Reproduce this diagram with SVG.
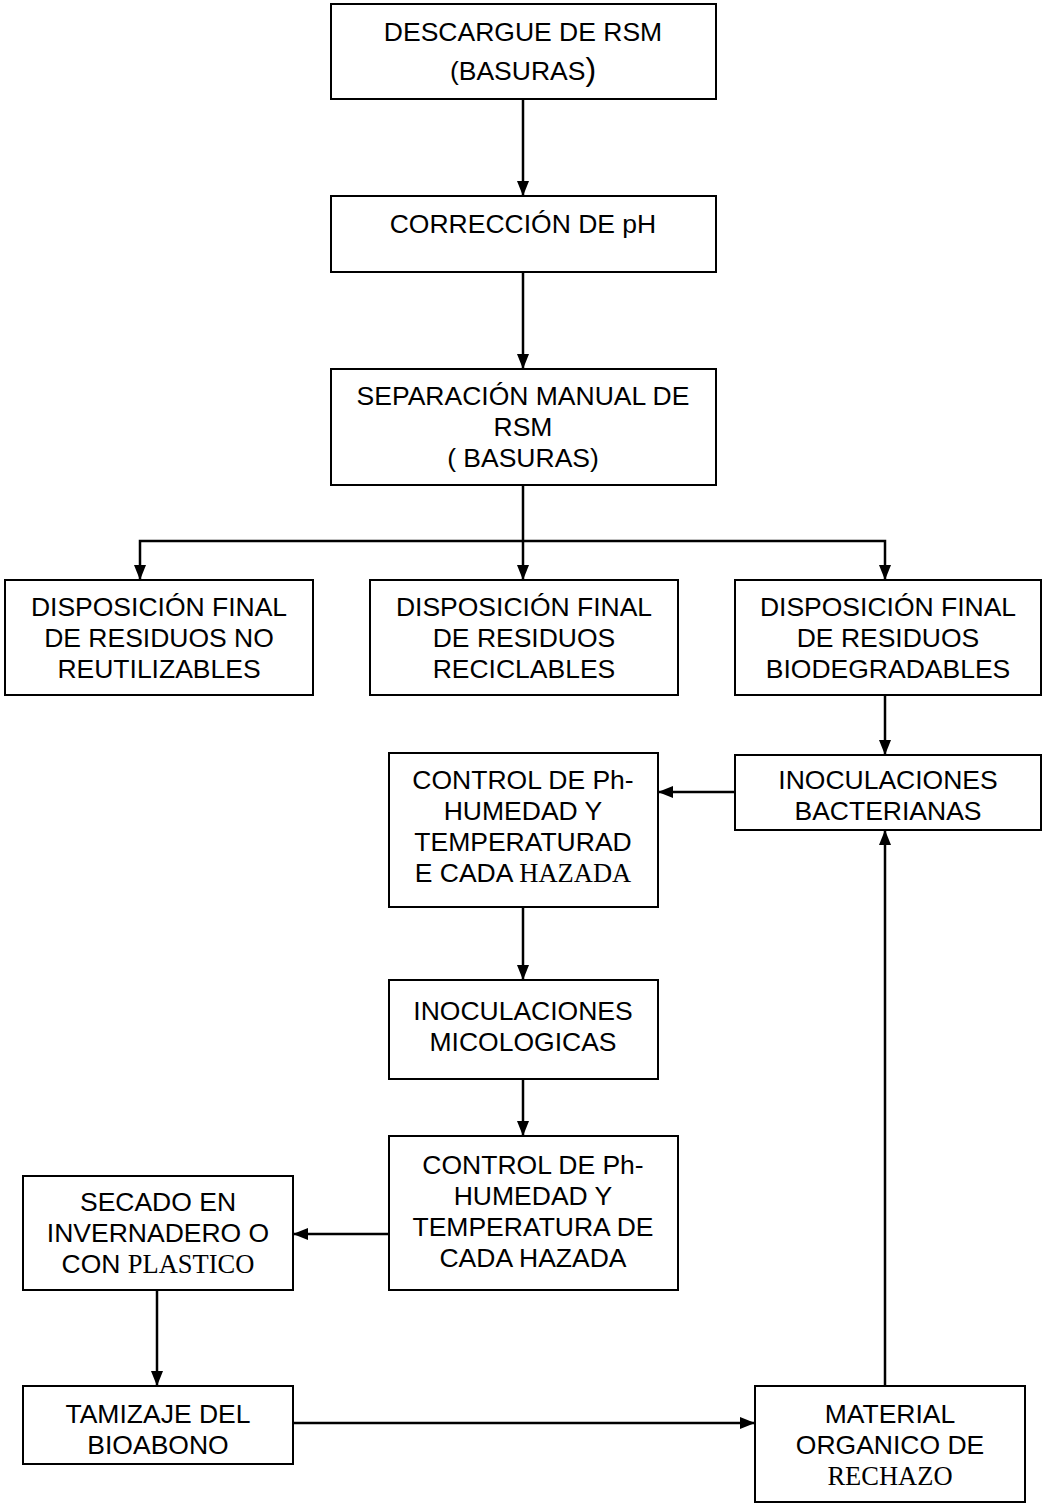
<svg xmlns="http://www.w3.org/2000/svg" width="1043" height="1504" viewBox="0 0 1043 1504">
<style>
.b{fill:#fff;stroke:#000;stroke-width:2}
.t{font-family:"Liberation Sans",Arial,sans-serif;font-size:26.5px;text-anchor:middle;fill:#000}
.s{font-family:"Liberation Serif","Times New Roman",serif}
.c{fill:none;stroke:#000;stroke-width:2.5}
</style>
<defs>
<marker id="a" markerWidth="15" markerHeight="12" refX="14" refY="6" orient="auto" markerUnits="userSpaceOnUse">
<path d="M0,0 L15,6 L0,12 Z" fill="#000"/>
</marker>
</defs>
<rect width="1043" height="1504" fill="#fff"/>
<g id="connectors">
<line class="c" x1="523" y1="99" x2="523" y2="195" marker-end="url(#a)"/>
<line class="c" x1="523" y1="272" x2="523" y2="368" marker-end="url(#a)"/>
<line class="c" x1="523" y1="485" x2="523" y2="579" marker-end="url(#a)"/>
<polyline class="c" points="523,541 885,541 885,579" marker-end="url(#a)"/>
<polyline class="c" points="523,541 140,541 140,579" marker-end="url(#a)"/>
<line class="c" x1="885" y1="695" x2="885" y2="754" marker-end="url(#a)"/>
<line class="c" x1="735" y1="792" x2="659" y2="792" marker-end="url(#a)"/>
<line class="c" x1="523" y1="907" x2="523" y2="979" marker-end="url(#a)"/>
<line class="c" x1="523" y1="1079" x2="523" y2="1135" marker-end="url(#a)"/>
<line class="c" x1="389" y1="1234" x2="294" y2="1234" marker-end="url(#a)"/>
<line class="c" x1="157" y1="1290" x2="157" y2="1385" marker-end="url(#a)"/>
<line class="c" x1="293" y1="1423" x2="754" y2="1423" marker-end="url(#a)"/>
<line class="c" x1="885" y1="1386" x2="885" y2="831" marker-end="url(#a)"/>
</g>
<g id="n1"><rect class="b" x="331" y="4" width="385" height="95"/>
<text class="t" x="523" y="41">DESCARGUE DE RSM</text>
<text class="t" x="523" y="80">(BASURAS<tspan font-size="32">)</tspan></text></g>
<g id="n2"><rect class="b" x="331" y="196" width="385" height="76"/>
<text class="t" x="523" y="233">CORRECCIÓN DE pH</text></g>
<g id="n3"><rect class="b" x="331" y="369" width="385" height="116"/>
<text class="t" x="523" y="405">SEPARACIÓN MANUAL DE</text>
<text class="t" x="523" y="436">RSM</text>
<text class="t" x="523" y="467">( BASURAS)</text></g>
<g id="n4"><rect class="b" x="5" y="580" width="308" height="115"/>
<text class="t" x="159" y="616">DISPOSICIÓN FINAL</text>
<text class="t" x="159" y="647">DE RESIDUOS NO</text>
<text class="t" x="159" y="678">REUTILIZABLES</text></g>
<g id="n5"><rect class="b" x="370" y="580" width="308" height="115"/>
<text class="t" x="524" y="616">DISPOSICIÓN FINAL</text>
<text class="t" x="524" y="647">DE RESIDUOS</text>
<text class="t" x="524" y="678">RECICLABLES</text></g>
<g id="n6"><rect class="b" x="735" y="580" width="306" height="115"/>
<text class="t" x="888" y="616">DISPOSICIÓN FINAL</text>
<text class="t" x="888" y="647">DE RESIDUOS</text>
<text class="t" x="888" y="678">BIODEGRADABLES</text></g>
<g id="n7"><rect class="b" x="735" y="755" width="306" height="75"/>
<text class="t" x="888" y="789">INOCULACIONES</text>
<text class="t" x="888" y="820">BACTERIANAS</text></g>
<g id="n8"><rect class="b" x="389" y="753" width="269" height="154"/>
<text class="t" x="523" y="789">CONTROL DE Ph-</text>
<text class="t" x="523" y="820">HUMEDAD Y</text>
<text class="t" x="523" y="851">TEMPERATURAD</text>
<text class="t" x="523" y="882">E CADA <tspan class="s">HAZADA</tspan></text></g>
<g id="n9"><rect class="b" x="389" y="980" width="269" height="99"/>
<text class="t" x="523" y="1020">INOCULACIONES</text>
<text class="t" x="523" y="1051">MICOLOGICAS</text></g>
<g id="n10"><rect class="b" x="389" y="1136" width="289" height="154"/>
<text class="t" x="533" y="1174">CONTROL DE Ph-</text>
<text class="t" x="533" y="1205">HUMEDAD Y</text>
<text class="t" x="533" y="1236">TEMPERATURA DE</text>
<text class="t" x="533" y="1267">CADA HAZADA</text></g>
<g id="n11"><rect class="b" x="23" y="1176" width="270" height="114"/>
<text class="t" x="158" y="1211">SECADO EN</text>
<text class="t" x="158" y="1242">INVERNADERO O</text>
<text class="t" x="158" y="1273">CON <tspan class="s">PLASTICO</tspan></text></g>
<g id="n12"><rect class="b" x="23" y="1386" width="270" height="78"/>
<text class="t" x="158" y="1423">TAMIZAJE DEL</text>
<text class="t" x="158" y="1454">BIOABONO</text></g>
<g id="n13"><rect class="b" x="755" y="1386" width="270" height="116"/>
<text class="t" x="890" y="1423">MATERIAL</text>
<text class="t" x="890" y="1454">ORGANICO DE</text>
<text class="t s" x="890" y="1485">RECHAZO</text></g>
</svg>
